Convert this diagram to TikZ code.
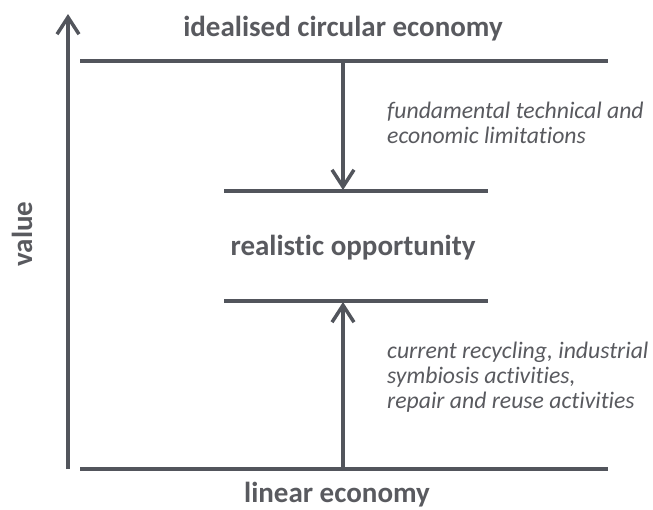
\documentclass[tikz,border=0pt]{standalone}
\usepackage{fontspec}
\setmainfont{Carlito}[Ligatures=NoCommon]
\usetikzlibrary{arrows.meta}
\definecolor{darkgrey}{RGB}{82,85,92}
\definecolor{textgrey}{RGB}{89,90,95}

\begin{document}
\begin{tikzpicture}[x=1pt,y=-1pt,
  bar/.style={draw=darkgrey,line width=3.5pt},
  push/.style={bar,-{Straight Barb[length=17pt,width=22pt]}},
  level/.style={text=textgrey,font=\fontsize{29}{34}\selectfont\bfseries,inner sep=0pt,anchor=base},
  note/.style={text=textgrey,font=\fontsize{23.7}{25}\selectfont\itshape,align=left,inner sep=0pt,anchor=base west}]
  \useasboundingbox (0,0) rectangle (653,509);

  \coordinate (axis-foot) at (68,469);
  \coordinate (axis-tip) at (68,14);
  \coordinate (ideal-l) at (80,61);
  \coordinate (ideal-r) at (608,61);
  \coordinate (real-top-l) at (224,191);
  \coordinate (real-top-r) at (488,191);
  \coordinate (real-bot-l) at (224,301);
  \coordinate (real-bot-r) at (488,301);
  \coordinate (linear-l) at (80,469);
  \coordinate (linear-r) at (608,469);
  \coordinate (limit-from) at (343,61);
  \coordinate (limit-to) at (343,190);
  \coordinate (gain-from) at (343,469);
  \coordinate (gain-to) at (343,302);

  \draw[push] (axis-foot) -- (axis-tip);
  \draw[bar] (ideal-l) -- (ideal-r);
  \draw[bar] (real-top-l) -- (real-top-r);
  \draw[bar] (real-bot-l) -- (real-bot-r);
  \draw[bar] (linear-l) -- (linear-r);
  \draw[push] (limit-from) -- (limit-to);
  \draw[push] (gain-from) -- (gain-to);

  \node[level] (ideal) at (343,36) {idealised circular economy};
  \node[level] (real) at (353,255) {realistic opportunity};
  \node[level] (linear) at (337,502) {linear economy};
  \node[level,rotate=90] (value) at (32,234) {value};

  \node[note] (limits) at (387,143) {fundamental technical and\\economic limitations};
  \node[note] (activities) at (387,408) {current recycling, industrial\\symbiosis activities,\\repair and reuse activities};
\end{tikzpicture}
\end{document}
